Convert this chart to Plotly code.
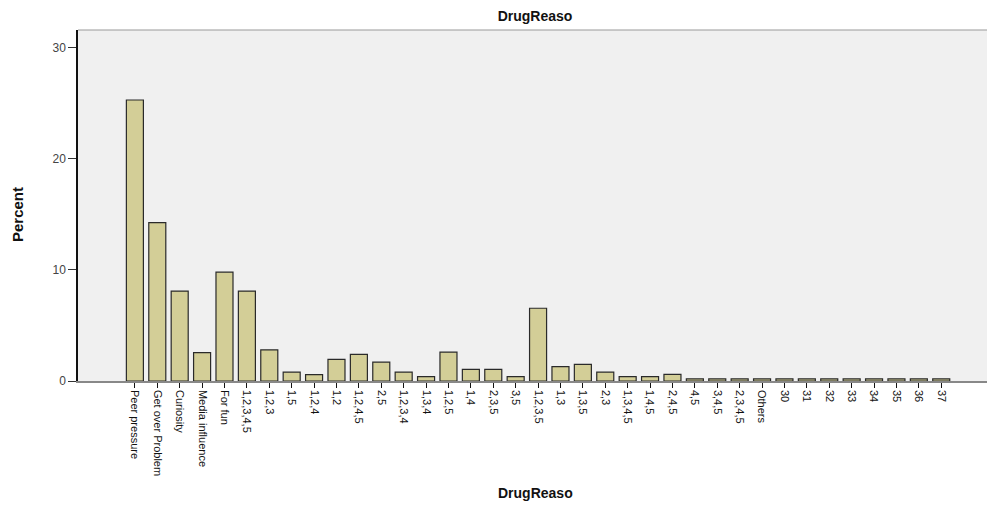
import plotly.graph_objects as go

categories = ["Peer pressure", "Get over Problem", "Curiosity", "Media influence", "For fun",
              "1,2,3,4,5", "1,2,3", "1,5", "1,2,4", "1,2", "1,2,4,5", "2,5", "1,2,3,4", "1,3,4",
              "1,2,5", "1,4", "2,3,5", "3,5", "1,2,3,5", "1,3", "1,3,5", "2,3", "1,3,4,5",
              "1,4,5", "2,4,5", "4,5", "3,4,5", "2,3,4,5", "Others",
              "30", "31", "32", "33", "34", "35", "36", "37"]
percent = [25.3, 14.25, 8.1, 2.55, 9.8, 8.1, 2.8, 0.8, 0.57, 1.95, 2.4, 1.7, 0.8, 0.4,
           2.6, 1.05, 1.05, 0.4, 6.55, 1.3, 1.5, 0.8, 0.4, 0.4, 0.6, 0.2, 0.2, 0.2, 0.2,
           0.2, 0.2, 0.2, 0.2, 0.2, 0.2, 0.2, 0.2]
y_ticks = [0, 10, 20, 30]

# page body has an 8px margin, so the figure is sized/offset accordingly
W, H, OFF = 987, 497, 8
L, T, B = 78 - OFF, 30 - OFF, 124
PW, PH = W - L, H - T - B

fig = go.Figure(go.Bar(
    x=categories, y=percent, width=0.76,
    marker=dict(color="#d3ce97", line=dict(color="#2a2a2a", width=1.2)),
))

fig.update_layout(
    width=W, height=H,
    margin=dict(l=L, r=0, t=T, b=B),
    paper_bgcolor="white", plot_bgcolor="#f0f0f0",
    font=dict(family="Liberation Sans Narrow, Liberation Sans, Arial", color="#222"),
    title=dict(text="<b>DrugReaso</b>", x=(535 - OFF) / W, xanchor="center",
               y=1 - (16 - OFF) / H, yanchor="middle",
               font=dict(size=14, family="Liberation Sans, Arial", color="#111")),
    showlegend=False, bargap=0.24,
)
fig.update_xaxes(
    type="category", range=[-2.54, 38.4], tickangle=90, automargin=False,
    tickfont=dict(size=11, family="Liberation Sans Narrow, Liberation Sans", color="#111"),
    ticks="outside", ticklen=5, tickcolor="#111", tickwidth=1.2,
    showline=True, linecolor="#888", linewidth=1.5, showgrid=False, mirror=False,
)
fig.update_yaxes(
    range=[0, 31.6], tickvals=y_ticks, ticks="outside", ticklen=8, tickcolor="#333",
    automargin=False,
    tickfont=dict(size=12, family="Liberation Sans, Arial", color="#444"),
    showline=True, linecolor="#111", linewidth=1.5, showgrid=False, zeroline=False,
)
fig.add_shape(type="line", xref="paper", yref="paper", x0=0, x1=1, y0=1, y1=1,
              line=dict(color="#999", width=1.2))
fig.add_annotation(text="<b>DrugReaso</b>", xref="paper", yref="paper",
                   x=(535 - 78) / PW, y=-(493 - 381) / PH, showarrow=False,
                   xanchor="center", yanchor="middle",
                   font=dict(size=14, family="Liberation Sans, Arial", color="#111"))
fig.add_annotation(text="<b>Percent</b>", xref="paper", yref="paper",
                   x=-(78 - 17) / PW, y=(381 - 215) / PH, showarrow=False, textangle=-90,
                   xanchor="center", yanchor="middle",
                   font=dict(size=15, family="Liberation Sans Narrow, Liberation Sans", color="#111"))

fig.write_html("out.html")
